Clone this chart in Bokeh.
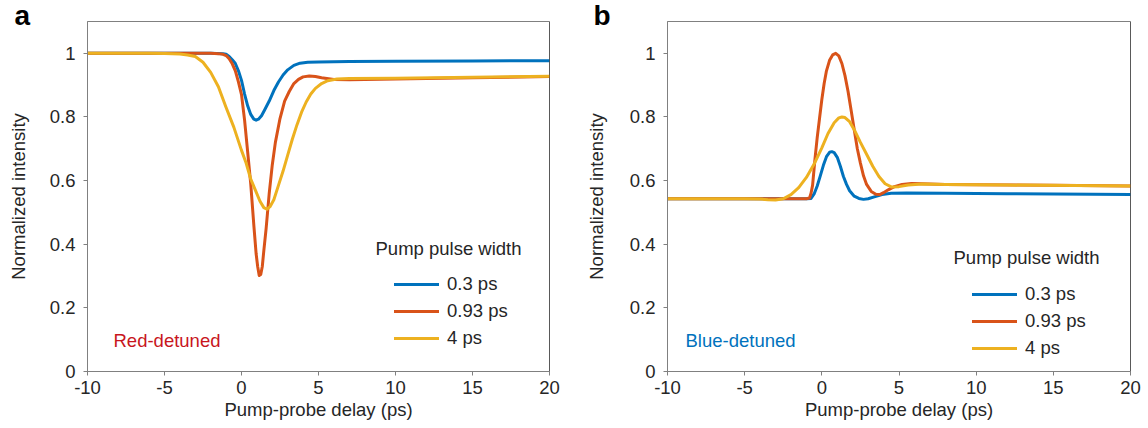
from bokeh.plotting import figure
from bokeh.layouts import row
from bokeh.models import Legend, LegendItem, Label, Span, FixedTicker
from bokeh.embed import file_html
from bokeh.resources import INLINE

FONT = "Liberation Sans"
TEXT_COLOR = "#262626"
AXIS_COLOR = "#808080"

# Axis ticks and labels
x_ticks = [-10, -5, 0, 5, 10, 15, 20]
x_tick_labels = ["-10", "-5", "0", "5", "10", "15", "20"]
y_ticks = [0, 0.2, 0.4, 0.6, 0.8, 1.0]
y_tick_labels = ["0", "0.2", "0.4", "0.6", "0.8", "1"]

pulse_widths = ["0.3 ps", "0.93 ps", "4 ps"]
line_colors = ["#0072BD", "#D95319", "#EDB120"]

# ---- Red-detuned probe: transmitted intensity vs. pump-probe delay ----
red_03_delay = [-10, -2, -1.2, -1.0, -0.8, -0.6, -0.4, -0.2, 0.0, 0.2, 0.4, 0.6, 0.8, 0.95,
                1.1, 1.3, 1.5, 1.8, 2.1, 2.4, 2.7, 3.0, 3.4, 3.8, 4.3, 5.0, 7.0, 10, 15, 20]
red_03_int = [1.0, 1.0, 0.999, 0.997, 0.99, 0.98, 0.968, 0.945, 0.915, 0.872, 0.835, 0.808, 0.793, 0.79,
              0.793, 0.804, 0.822, 0.85, 0.883, 0.91, 0.932, 0.948, 0.962, 0.969, 0.972, 0.973, 0.974, 0.975, 0.976, 0.977]

red_093_delay = [-10, -5, -2, -1.5, -1.2, -1.0, -0.8, -0.6, -0.4, -0.2, 0.0, 0.2, 0.4, 0.6, 0.8, 0.95,
                 1.05, 1.15, 1.25, 1.35, 1.45, 1.6, 1.8, 2.0, 2.2, 2.5, 2.8, 3.1, 3.4, 3.7, 4.0, 4.4,
                 4.8, 5.2, 6.0, 7.0, 10, 15, 20]
red_093_int = [1.0, 1.0, 1.0, 0.999, 0.997, 0.993, 0.983, 0.967, 0.945, 0.91, 0.87, 0.79, 0.69, 0.59, 0.46, 0.37,
               0.33, 0.302, 0.305, 0.33, 0.38, 0.45, 0.56, 0.65, 0.72, 0.795, 0.85, 0.88, 0.905, 0.918, 0.926, 0.929,
               0.927, 0.923, 0.918, 0.917, 0.919, 0.923, 0.927]

red_4_delay = [-10, -6, -5, -4.5, -4, -3.5, -3, -2.5, -2.0, -1.5, -1.0, -0.5, 0.0, 0.3, 0.6, 0.9, 1.2,
               1.45, 1.65, 1.85, 2.1, 2.4, 2.7, 3.0, 3.3, 3.6, 3.9, 4.2, 4.5, 4.8, 5.2, 5.6, 6.2, 7, 10, 15, 20]
red_4_int = [1.0, 1.0, 0.9995, 0.999, 0.998, 0.995, 0.99, 0.972, 0.94, 0.895, 0.83, 0.768, 0.695, 0.655, 0.605, 0.57, 0.535,
             0.515, 0.51, 0.518, 0.54, 0.585, 0.63, 0.68, 0.73, 0.775, 0.815, 0.847, 0.872, 0.89, 0.905, 0.914, 0.919, 0.921,
             0.922, 0.925, 0.928]

# ---- Blue-detuned probe ----
blue_03_delay = [-10, -2, -1.0, -0.7, -0.5, -0.3, -0.1, 0.1, 0.3, 0.5, 0.65, 0.8, 1.0, 1.2, 1.4, 1.6,
                 1.8, 2.1, 2.4, 2.7, 3.0, 3.4, 3.9, 4.5, 5.5, 8, 12, 20]
blue_03_int = [0.543, 0.543, 0.543, 0.544, 0.558, 0.583, 0.615, 0.648, 0.675, 0.689, 0.691, 0.688, 0.673, 0.645, 0.613, 0.588,
               0.568, 0.551, 0.544, 0.541, 0.543, 0.549, 0.556, 0.560, 0.561, 0.560, 0.559, 0.556]

blue_093_delay = [-10, -2, -1.0, -0.8, -0.7, -0.6, -0.45, -0.3, -0.15, 0.0, 0.15, 0.3, 0.5, 0.7, 0.9, 1.1,
                  1.3, 1.5, 1.7, 1.9, 2.1, 2.3, 2.5, 2.7, 2.9, 3.2, 3.5, 3.75, 4.0, 4.3, 4.7, 5.2, 5.8, 6.5,
                  8, 10, 15, 20]
blue_093_int = [0.543, 0.543, 0.543, 0.545, 0.56, 0.585, 0.665, 0.735, 0.795, 0.855, 0.905, 0.945, 0.978, 0.995, 1.0, 0.992,
                0.968, 0.93, 0.88, 0.82, 0.76, 0.70, 0.655, 0.615, 0.588, 0.566, 0.557, 0.556, 0.562, 0.571, 0.581, 0.588,
                0.591, 0.59, 0.588, 0.587, 0.585, 0.583]

blue_4_delay = [-10, -5, -4, -3.5, -3, -2.5, -2.0, -1.5, -1.0, -0.5, 0.0, 0.4, 0.8, 1.1, 1.3, 1.5, 1.8,
                2.1, 2.5, 2.9, 3.3, 3.7, 4.1, 4.5, 5.0, 5.6, 6.5, 8, 12, 20]
blue_4_int = [0.543, 0.543, 0.542, 0.540, 0.539, 0.543, 0.556, 0.578, 0.61, 0.652, 0.703, 0.748, 0.782, 0.797, 0.80, 0.798,
              0.785, 0.76, 0.72, 0.683, 0.645, 0.613, 0.59, 0.58, 0.581, 0.586, 0.589, 0.588, 0.586, 0.583]


def make_panel(series, letter, letter_offset, note, note_color, left, right,
               ylabel_standoff, legend_xy, title_xy):
    p = figure(width=574, height=428, x_range=(-10, 20), y_range=(0, 1.1),
               output_backend="svg", toolbar_location=None,
               min_border_left=left, min_border_right=right,
               min_border_top=21, min_border_bottom=57)
    p.background_fill_color = "white"
    p.border_fill_color = "white"
    p.outline_line_color = AXIS_COLOR
    p.grid.visible = False

    # panel letter drawn as the figure title, pulled down over the frame edge
    p.title.text = letter
    p.title.align = "left"
    p.title.offset = letter_offset
    p.title.standoff = -19
    p.title.text_font = FONT
    p.title.text_font_size = "28px"
    p.title.text_font_style = "bold"
    p.title.text_color = "black"

    p.xaxis.ticker = FixedTicker(ticks=x_ticks)
    p.yaxis.ticker = FixedTicker(ticks=y_ticks)
    p.xaxis.major_label_overrides = dict(zip(x_ticks, x_tick_labels))
    p.yaxis.major_label_overrides = dict(zip(y_ticks, y_tick_labels))
    p.xaxis.axis_label = "Pump-probe delay (ps)"
    p.yaxis.axis_label = "Normalized intensity"

    for ax in (p.xaxis, p.yaxis):
        ax.axis_line_color = AXIS_COLOR
        ax.major_tick_line_color = AXIS_COLOR
        ax.minor_tick_line_color = None
        ax.major_tick_in = 0
        ax.major_tick_out = 4
        ax.major_label_text_font = FONT
        ax.major_label_text_font_size = "18.5px"
        ax.major_label_text_color = TEXT_COLOR
        ax.axis_label_text_font = FONT
        ax.axis_label_text_font_size = "18.5px"
        ax.axis_label_text_font_style = "normal"
        ax.axis_label_text_color = TEXT_COLOR
    p.yaxis.major_label_standoff = 8
    p.yaxis.axis_label_standoff = ylabel_standoff
    p.xaxis.major_label_standoff = 5
    p.xaxis.axis_label_standoff = 2

    p.add_layout(Span(location=20, dimension="height", line_color="#333333", line_width=1))

    items = []
    for (dx, dy), name, col in zip(series, pulse_widths, line_colors):
        r = p.line(dx, dy, line_color=col, line_width=3, line_join="round", line_cap="round")
        items.append(LegendItem(label=name, renderers=[r]))

    legend = Legend(items=items, location=legend_xy, padding=0, margin=0,
                    spacing=5, glyph_width=45, glyph_height=22, label_height=22,
                    label_standoff=8, label_text_font=FONT, label_text_font_size="18.5px",
                    label_text_color=TEXT_COLOR, border_line_alpha=0,
                    background_fill_alpha=0)
    p.add_layout(legend)

    p.add_layout(Label(x=title_xy[0], y=title_xy[1], x_units="screen", y_units="screen",
                       text="Pump pulse width", text_font=FONT, text_font_size="18.5px",
                       text_color=TEXT_COLOR, text_baseline="alphabetic"))
    p.add_layout(Label(x=note[1], y=note[2], x_units="screen", y_units="screen",
                       text=note[0], text_font=FONT, text_font_size="18.5px",
                       text_color=note_color, text_baseline="alphabetic"))
    return p


panel_a = make_panel(
    [(red_03_delay, red_03_int), (red_093_delay, red_093_int), (red_4_delay, red_4_int)],
    "a", -73, ("Red-detuned", 26, 31), "#C8161D",
    left=87, right=25, ylabel_standoff=18, legend_xy=(307, 22), title_xy=(288, 123))

panel_b = make_panel(
    [(blue_03_delay, blue_03_int), (blue_093_delay, blue_093_int), (blue_4_delay, blue_4_int)],
    "b", -74, ("Blue-detuned", 18, 31), "#0072BD",
    left=93, right=18, ylabel_standoff=20, legend_xy=(305, 12), title_xy=(286, 114))

layout = row(panel_a, panel_b, spacing=0)

with open("out.html", "w") as f:
    f.write(file_html(layout, INLINE))
